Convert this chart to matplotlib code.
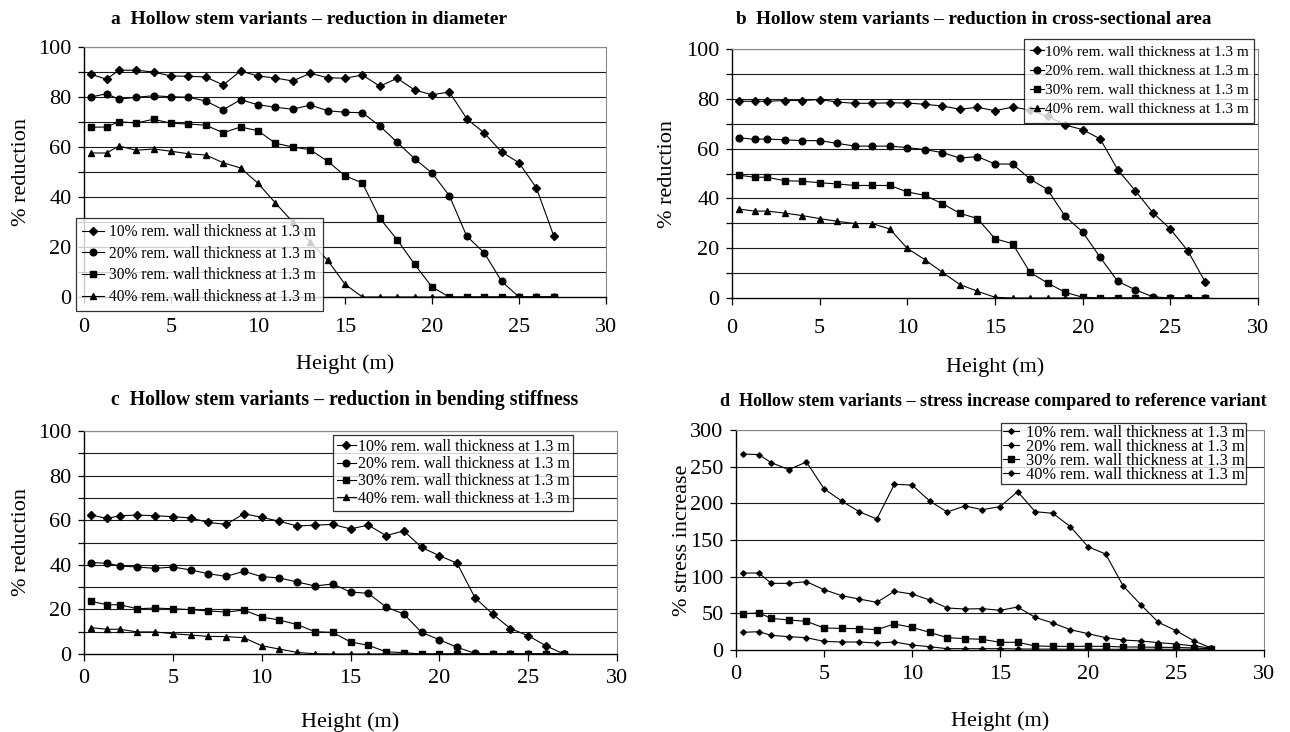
import matplotlib
matplotlib.use("Agg")
import matplotlib.pyplot as plt
from matplotlib.ticker import FixedLocator, FuncFormatter

plt.rcParams["font.family"] = ["Liberation Serif", "DejaVu Serif"]

# sampling heights along the stem (m)
HEIGHT = [0.4, 1.3, 2, 3, 4, 5, 6, 7, 8, 9, 10, 11, 12, 13, 14, 15,
          16, 17, 18, 19, 20, 21, 22, 23, 24, 25, 26, 27]

LABELS = ["10% rem. wall thickness at 1.3 m",
          "20% rem. wall thickness at 1.3 m",
          "30% rem. wall thickness at 1.3 m",
          "40% rem. wall thickness at 1.3 m"]

# a: reduction in diameter (%)
DIAM_10 = [89.1, 87.1, 90.7, 90.7, 90.0, 88.4, 88.3, 88.0, 84.8, 90.4, 88.4, 87.6, 86.4, 89.5,
           87.7, 87.5, 88.8, 84.3, 87.5, 82.8, 80.9, 82.0, 71.3, 65.6, 58.0, 53.7, 43.6, 24.4]
DIAM_20 = [80.0, 81.3, 79.1, 79.9, 80.5, 80.1, 79.9, 78.4, 74.9, 78.9, 76.9, 75.9, 75.1, 76.8,
           74.5, 73.9, 73.7, 68.4, 61.9, 55.3, 49.6, 40.5, 24.3, 17.7, 6.3, 0, 0, 0]
DIAM_30 = [67.9, 68.0, 70.1, 69.6, 71.1, 69.5, 69.2, 68.7, 65.7, 68.0, 66.5, 61.5, 60.0, 58.9,
           54.3, 48.5, 45.6, 31.5, 22.9, 13.1, 4.0, 0, 0, 0, 0, 0, 0, 0]
DIAM_40 = [57.6, 57.6, 60.4, 58.7, 59.2, 58.3, 57.3, 56.8, 53.7, 51.6, 45.5, 37.6, 30.0, 22.0,
           14.7, 5.1, 0, 0, 0, 0, 0, 0, 0, 0, 0, 0, 0, 0]

# b: reduction in cross-sectional area (%)
AREA_10 = [79.0, 79.0, 79.0, 79.3, 79.3, 79.7, 78.7, 78.2, 78.2, 78.4, 78.3, 77.8, 77.1, 75.8,
           76.6, 75.2, 76.7, 75.5, 73.0, 69.5, 67.6, 63.9, 51.5, 43.1, 34.3, 27.7, 18.9, 6.3]
AREA_20 = [64.4, 63.7, 63.9, 63.5, 63.2, 63.2, 62.1, 61.0, 61.0, 61.0, 60.4, 59.6, 58.4, 56.2,
           56.8, 53.8, 53.8, 47.8, 43.5, 32.8, 26.5, 16.3, 6.7, 3.3, 0.5, 0, 0, 0]
AREA_30 = [49.3, 48.5, 48.5, 47.1, 46.9, 46.3, 45.8, 45.2, 45.2, 45.2, 42.6, 41.2, 37.9, 34.0,
           31.9, 23.8, 21.8, 10.3, 6.0, 2.3, 0.3, 0, 0, 0, 0, 0, 0, 0]
AREA_40 = [35.7, 34.9, 34.9, 34.1, 33.1, 31.9, 30.8, 29.9, 29.9, 27.7, 19.9, 15.4, 10.3, 5.4,
           2.7, 0.3, 0, 0, 0, 0, 0, 0, 0, 0, 0, 0, 0, 0]

# c: reduction in bending stiffness (%)
STIFF_10 = [62.3, 60.8, 62.0, 62.3, 62.0, 61.6, 61.0, 59.0, 58.1, 62.9, 61.3, 59.5, 57.4, 57.8,
            58.1, 56.1, 57.8, 53.1, 55.2, 47.8, 44.1, 40.7, 25.3, 17.9, 11.4, 8.2, 3.7, 0]
STIFF_20 = [41.0, 40.7, 39.5, 39.0, 38.4, 39.0, 37.7, 36.0, 34.8, 37.1, 34.7, 34.1, 32.3, 30.5,
            31.4, 27.8, 27.2, 21.1, 17.9, 9.7, 6.4, 3.0, 0.3, 0, 0, 0, 0, 0]
STIFF_30 = [23.6, 22.1, 22.1, 20.3, 20.6, 20.3, 19.9, 19.3, 18.8, 19.7, 16.6, 15.2, 13.2, 10.0,
            9.7, 5.4, 3.9, 1.0, 0.6, 0, 0, 0, 0, 0, 0, 0, 0, 0]
STIFF_40 = [11.8, 11.1, 11.1, 9.9, 9.9, 9.1, 8.5, 7.9, 7.8, 7.3, 3.7, 2.2, 0.7, 0.1,
            0, 0, 0, 0, 0, 0, 0, 0, 0, 0, 0, 0, 0, 0]

# d: stress increase compared to reference variant (%)
STRESS_10 = [267.3, 266.4, 255.5, 245.9, 256.4, 220.0, 203.2, 188.6, 178.6, 225.9, 225.0, 203.2,
             188.2, 196.4, 191.4, 195.5, 215.9, 188.6, 186.4, 168.2, 140.9, 130.9, 87.3, 61.8,
             37.7, 26.4, 12.7, 2.7]
STRESS_20 = [105.0, 105.0, 90.9, 90.9, 93.2, 82.3, 74.1, 69.5, 65.0, 80.0, 76.4, 68.2, 57.3, 55.9,
             56.4, 54.1, 58.6, 44.5, 36.8, 27.7, 22.3, 16.8, 13.6, 12.3, 10.0, 8.2, 5.5, 2.7]
STRESS_30 = [49.5, 50.5, 43.2, 40.9, 39.1, 30.0, 29.5, 29.1, 27.7, 35.5, 30.9, 24.1, 16.8, 15.5,
             14.5, 10.5, 10.5, 5.5, 5.0, 5.0, 5.0, 5.0, 4.1, 4.1, 3.6, 3.6, 2.7, 1.8]
STRESS_40 = [24.1, 25.0, 20.0, 18.2, 16.8, 11.8, 10.9, 10.9, 9.5, 10.9, 6.8, 4.5, 1.8, 1.8,
             1.8, 1.8, 1.5, 1.2, 1.2, 1.0, 1.0, 1.0, 1.0, 1.0, 1.0, 1.0, 1.0, 1.0]

W, H = 1290, 732


def px_rect(left, top, right, bottom):
    return [left / W, 1 - bottom / H, (right - left) / W, (bottom - top) / H]


def style_axes(ax, ymax, ystep, labstep, xpad):
    ax.set_xlim(0, 30)
    ax.set_ylim(0, ymax)
    yt = list(range(0, ymax + 1, ystep))
    ax.yaxis.set_major_locator(FixedLocator(yt))
    ax.yaxis.set_major_formatter(FuncFormatter(lambda v, p: f"{int(v)}" if int(v) % labstep == 0 else ""))
    ax.set_xticks(range(0, 31, 5))
    for v in yt[1:]:
        ax.axhline(v, color="#1a1a1a", lw=0.8, zorder=1)
    ax.spines["top"].set_color("#888888")
    ax.spines["right"].set_color("#888888")
    ax.spines["left"].set_linewidth(1.0)
    ax.spines["bottom"].set_linewidth(1.0)
    ax.tick_params(axis="y", direction="out", length=4, width=0.9, labelsize=16, pad=5)
    ax.tick_params(axis="x", direction="out", length=5, width=0.9, labelsize=16, pad=xpad)


def draw(ax, series, markers, sizes):
    for ys, lab, m, s in zip(series, LABELS, markers, sizes):
        ax.plot(HEIGHT, ys, color="black", lw=0.8, marker=m, markersize=s,
                markerfacecolor="black", markeredgecolor="black", label=lab, zorder=3)


def add_legend(ax, left, top, **kw):
    leg = ax.legend(loc="upper left", bbox_to_anchor=(left / W, 1 - top / H),
                    bbox_transform=fig.transFigure, borderaxespad=0, frameon=True,
                    fancybox=False, edgecolor="black", **kw)
    leg.get_frame().set_linewidth(0.9)
    leg.set_zorder(5)
    return leg


fig = plt.figure(figsize=(W / 100, H / 100), dpi=100)

MK = ["D", "o", "s", "^"]
SZ = [3.8, 4.8, 4.8, 4.8]

# ---- a ----
ax = fig.add_axes(px_rect(84, 47, 606, 297))
draw(ax, [DIAM_10, DIAM_20, DIAM_30, DIAM_40], MK, SZ)
style_axes(ax, 100, 10, 20, 10)
ax.set_ylabel("% reduction", fontsize=16)
ax.yaxis.set_label_coords(-0.102, 0.5)
ax.set_xlabel("Height (m)", fontsize=16)
ax.xaxis.set_label_coords(0.5, -0.228)
add_legend(ax, 76, 218, fontsize=11.2, handlelength=1.4, handletextpad=0.35,
           labelspacing=0.36, borderpad=0.4)
fig.text(309 / W, 1 - 19 / H, "a  Hollow stem variants \u2013 reduction in diameter",
         ha="center", va="center", fontsize=14, fontweight="bold")

# ---- b ----
ax = fig.add_axes(px_rect(732, 49, 1258, 298))
draw(ax, [AREA_10, AREA_20, AREA_30, AREA_40], MK, SZ)
style_axes(ax, 100, 10, 20, 10)
ax.set_ylabel("% reduction", fontsize=16)
ax.yaxis.set_label_coords(-0.105, 0.5)
ax.set_xlabel("Height (m)", fontsize=16)
ax.xaxis.set_label_coords(0.5, -0.24)
add_legend(ax, 1024, 39, fontsize=11, handlelength=0.9, handletextpad=0.05,
           labelspacing=0.36, borderpad=0.4)
fig.text(974 / W, 1 - 19 / H, "b  Hollow stem variants \u2013 reduction in cross-sectional area",
         ha="center", va="center", fontsize=13.8, fontweight="bold")

# ---- c ----
ax = fig.add_axes(px_rect(84, 431, 617, 654))
draw(ax, [STIFF_10, STIFF_20, STIFF_30, STIFF_40], MK, SZ)
style_axes(ax, 100, 10, 20, 6)
ax.set_ylabel("% reduction", fontsize=16)
ax.yaxis.set_label_coords(-0.1, 0.5)
ax.set_xlabel("Height (m)", fontsize=16)
ax.xaxis.set_label_coords(0.5, -0.262)
add_legend(ax, 333, 435, fontsize=11.4, handlelength=1.2, handletextpad=0.1,
           labelspacing=0.08, borderpad=0.25)
fig.text(345 / W, 1 - 400 / H, "c  Hollow stem variants \u2013 reduction in bending stiffness",
         ha="center", va="center", fontsize=14.2, fontweight="bold")

# ---- d ----
ax = fig.add_axes(px_rect(736, 430, 1264, 650))
draw(ax, [STRESS_10, STRESS_20, STRESS_30, STRESS_40], ["D", "D", "s", "D"], [2.8, 2.8, 4.0, 2.8])
style_axes(ax, 300, 50, 50, 6)
ax.set_ylabel("% stress increase", fontsize=16)
ax.yaxis.set_label_coords(-0.083, 0.5)
ax.set_xlabel("Height (m)", fontsize=16)
ax.xaxis.set_label_coords(0.5, -0.28)
add_legend(ax, 1001, 423, fontsize=11.8, handlelength=1.0, handletextpad=0.4,
           labelspacing=-0.12, borderpad=0.1)
fig.text(993 / W, 1 - 401 / H, "d  Hollow stem variants \u2013 stress increase compared to reference variant",
         ha="center", va="center", fontsize=13, fontweight="bold")

fig.savefig("out.png", dpi=100)
